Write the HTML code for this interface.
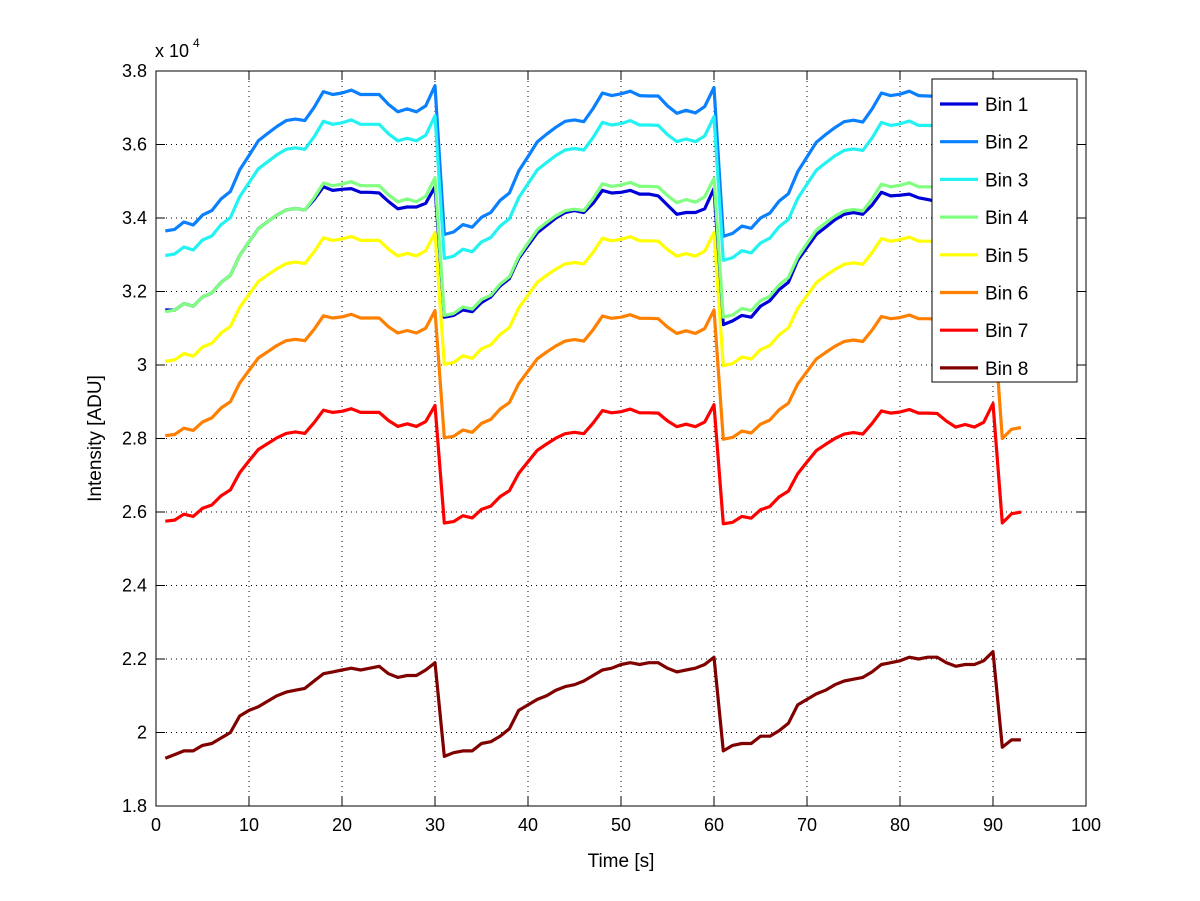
<!DOCTYPE html>
<html><head><meta charset="utf-8"><style>
html,body{margin:0;padding:0;background:#fff;}
svg{display:block;font-family:"Liberation Sans",sans-serif;}
</style></head><body>
<svg id="chart" width="1200" height="901" viewBox="0 0 1200 901" xmlns="http://www.w3.org/2000/svg">
<rect x="0" y="0" width="1200" height="901" fill="#fff"/>
<g id="grid"></g>
<g id="series"></g>
<g id="axes"></g>
<g id="legend"></g>
</svg>
<script>
const xTicks=[0,10,20,30,40,50,60,70,80,90,100];
const yTicks=[1.8,2,2.2,2.4,2.6,2.8,3,3.2,3.4,3.6,3.8];
const yTickLabels=["1.8","2","2.2","2.4","2.6","2.8","3","3.2","3.4","3.6","3.8"];
const seriesNames=["Bin 1","Bin 2","Bin 3","Bin 4","Bin 5","Bin 6","Bin 7","Bin 8"];
const seriesColors=["#0000d8","#0a80ff","#22f2f2","#80ff80","#ffff00","#ff8000","#ff0000","#800000"];
const bin1=[3.150,3.149,3.167,3.160,3.185,3.196,3.225,3.244,3.298,3.335,3.371,3.390,3.408,3.422,3.426,3.422,3.450,3.485,3.475,3.478,3.480,3.470,3.470,3.468,3.445,3.425,3.430,3.430,3.440,3.485,
3.130,3.135,3.150,3.145,3.170,3.185,3.215,3.235,3.290,3.325,3.360,3.380,3.400,3.415,3.420,3.415,3.440,3.475,3.468,3.470,3.475,3.465,3.465,3.460,3.435,3.410,3.415,3.415,3.425,3.480,
3.110,3.120,3.135,3.130,3.160,3.175,3.205,3.225,3.285,3.320,3.355,3.375,3.395,3.410,3.415,3.410,3.435,3.470,3.460,3.462,3.465,3.455,3.450,3.445,3.430,3.410,3.420,3.420,3.440,3.490,
3.120,3.130,3.140];
const bin2=[3.365,3.369,3.389,3.381,3.408,3.420,3.452,3.472,3.531,3.570,3.610,3.630,3.649,3.665,3.669,3.665,3.701,3.744,3.736,3.740,3.748,3.736,3.736,3.736,3.709,3.689,3.697,3.689,3.705,3.760,
3.355,3.362,3.382,3.375,3.402,3.415,3.448,3.468,3.528,3.567,3.607,3.628,3.647,3.663,3.667,3.662,3.698,3.740,3.733,3.738,3.745,3.733,3.732,3.732,3.705,3.685,3.693,3.686,3.703,3.755,
3.350,3.358,3.378,3.372,3.400,3.413,3.446,3.466,3.526,3.566,3.606,3.627,3.646,3.662,3.666,3.661,3.697,3.740,3.733,3.737,3.745,3.733,3.732,3.731,3.705,3.685,3.693,3.686,3.703,3.758,
3.355,3.365,3.375];
const bin3=[3.298,3.302,3.321,3.313,3.340,3.351,3.382,3.401,3.458,3.496,3.534,3.553,3.572,3.587,3.591,3.587,3.621,3.663,3.655,3.659,3.667,3.655,3.655,3.655,3.629,3.610,3.617,3.610,3.625,3.678,
3.290,3.296,3.315,3.308,3.335,3.347,3.378,3.398,3.455,3.493,3.531,3.551,3.570,3.585,3.589,3.585,3.619,3.660,3.653,3.657,3.665,3.653,3.653,3.652,3.627,3.608,3.615,3.608,3.623,3.676,
3.285,3.292,3.311,3.305,3.332,3.345,3.376,3.396,3.453,3.492,3.530,3.550,3.569,3.584,3.588,3.584,3.618,3.660,3.652,3.656,3.664,3.652,3.652,3.651,3.626,3.607,3.615,3.608,3.623,3.676,
3.290,3.298,3.308];
const bin4=[3.145,3.149,3.167,3.160,3.185,3.196,3.225,3.244,3.298,3.335,3.371,3.390,3.408,3.422,3.426,3.422,3.455,3.495,3.488,3.492,3.499,3.488,3.488,3.488,3.463,3.444,3.452,3.444,3.459,3.510,
3.135,3.140,3.158,3.152,3.178,3.190,3.220,3.240,3.295,3.332,3.368,3.388,3.406,3.420,3.424,3.420,3.453,3.493,3.486,3.490,3.497,3.486,3.486,3.485,3.461,3.442,3.450,3.443,3.458,3.508,
3.130,3.136,3.154,3.148,3.175,3.187,3.218,3.238,3.293,3.331,3.367,3.387,3.405,3.419,3.423,3.419,3.452,3.492,3.485,3.489,3.496,3.485,3.485,3.484,3.460,3.441,3.449,3.442,3.457,3.508,
3.135,3.142,3.150];
const bin5=[3.010,3.014,3.031,3.024,3.049,3.059,3.087,3.105,3.157,3.192,3.227,3.245,3.262,3.276,3.280,3.276,3.308,3.346,3.339,3.343,3.350,3.339,3.339,3.339,3.315,3.297,3.304,3.297,3.311,3.360,
3.002,3.007,3.025,3.018,3.044,3.055,3.083,3.102,3.155,3.190,3.225,3.244,3.261,3.275,3.279,3.275,3.307,3.345,3.338,3.342,3.349,3.338,3.338,3.337,3.314,3.296,3.303,3.296,3.310,3.360,
2.998,3.004,3.022,3.016,3.042,3.053,3.082,3.101,3.154,3.189,3.224,3.243,3.260,3.274,3.278,3.274,3.306,3.344,3.337,3.341,3.348,3.337,3.337,3.336,3.313,3.295,3.302,3.295,3.309,3.362,
3.000,3.010,3.018];
const bin6=[2.808,2.811,2.828,2.822,2.845,2.856,2.883,2.900,2.951,2.985,3.019,3.036,3.053,3.066,3.070,3.066,3.097,3.134,3.128,3.131,3.138,3.128,3.128,3.128,3.104,3.087,3.094,3.087,3.100,3.148,
2.802,2.806,2.823,2.817,2.841,2.852,2.880,2.898,2.949,2.983,3.017,3.035,3.052,3.065,3.069,3.065,3.096,3.133,3.127,3.130,3.137,3.127,3.127,3.126,3.103,3.086,3.093,3.086,3.099,3.150,
2.798,2.803,2.820,2.815,2.839,2.850,2.878,2.896,2.948,2.982,3.016,3.034,3.051,3.064,3.068,3.064,3.095,3.132,3.126,3.129,3.136,3.126,3.126,3.125,3.102,3.085,3.092,3.085,3.098,3.152,
2.800,2.825,2.830];
const bin7=[2.575,2.578,2.594,2.588,2.610,2.619,2.644,2.660,2.707,2.739,2.770,2.786,2.802,2.814,2.818,2.814,2.843,2.877,2.871,2.874,2.881,2.871,2.871,2.871,2.849,2.833,2.840,2.833,2.846,2.890,
2.570,2.574,2.590,2.584,2.607,2.616,2.642,2.658,2.705,2.737,2.768,2.785,2.801,2.813,2.817,2.813,2.842,2.876,2.870,2.873,2.880,2.870,2.870,2.869,2.848,2.832,2.839,2.832,2.845,2.892,
2.568,2.572,2.588,2.583,2.606,2.615,2.641,2.657,2.704,2.736,2.767,2.784,2.800,2.812,2.816,2.812,2.841,2.875,2.869,2.872,2.879,2.869,2.869,2.868,2.847,2.831,2.838,2.831,2.844,2.895,
2.570,2.595,2.600];
const bin8=[1.930,1.940,1.950,1.950,1.965,1.970,1.985,2.000,2.045,2.060,2.070,2.085,2.100,2.110,2.115,2.120,2.140,2.160,2.165,2.170,2.175,2.170,2.175,2.180,2.160,2.150,2.155,2.155,2.170,2.190,
1.935,1.945,1.950,1.950,1.970,1.975,1.990,2.010,2.060,2.075,2.090,2.100,2.115,2.125,2.130,2.140,2.155,2.170,2.175,2.185,2.190,2.185,2.190,2.190,2.175,2.165,2.170,2.175,2.185,2.205,
1.950,1.965,1.970,1.970,1.990,1.990,2.005,2.025,2.075,2.090,2.105,2.115,2.130,2.140,2.145,2.150,2.165,2.185,2.190,2.195,2.205,2.200,2.205,2.205,2.190,2.180,2.185,2.185,2.195,2.220,
1.960,1.980,1.980];
const allSeries=[bin1,bin2,bin3,bin4,bin5,bin6,bin7,bin8];

const NS="http://www.w3.org/2000/svg";
const L=156,R=1086,T=71,B=806;
const xMin=0,xMax=100,yMin=1.8,yMax=3.8;
function xs(v){return L+(v-xMin)/(xMax-xMin)*(R-L);}
function ys(v){return B-(v-yMin)/(yMax-yMin)*(B-T);}
function mk(tag,attrs,parent){const e=document.createElementNS(NS,tag);for(const k in attrs)e.setAttribute(k,attrs[k]);parent.appendChild(e);return e;}

const grid=document.getElementById('grid');
const axes=document.getElementById('axes');
const seriesG=document.getElementById('series');
const legend=document.getElementById('legend');

xTicks.forEach((t,i)=>{
  const x=xs(t);
  if(i>0&&i<xTicks.length-1){
    const g=mk('line',{x1:x,y1:T,x2:x,y2:B,stroke:'#000','stroke-width':1,'stroke-dasharray':'1 4'},grid);
    
    
  }
  const tk1=mk('line',{x1:x,y1:B,x2:x,y2:B-9,stroke:'#000','stroke-width':1},axes);
  
  
  const tk2=mk('line',{x1:x,y1:T,x2:x,y2:T+9,stroke:'#000','stroke-width':1},axes);
  
  
  const lb=mk('text',{x:x,y:B+25,'text-anchor':'middle','font-size':18,fill:'#000'},axes);
  lb.textContent=String(t);
  
  
});
yTicks.forEach((t,i)=>{
  const y=ys(t);
  if(i>0&&i<yTicks.length-1){
    const g=mk('line',{x1:L,y1:y,x2:R,y2:y,stroke:'#000','stroke-width':1,'stroke-dasharray':'1 4'},grid);
    
    
  }
  const tk1=mk('line',{x1:L,y1:y,x2:L+9,y2:y,stroke:'#000','stroke-width':1},axes);
  
  
  const tk2=mk('line',{x1:R,y1:y,x2:R-9,y2:y,stroke:'#000','stroke-width':1},axes);
  
  
  const lb=mk('text',{x:L-9,y:y+6,'text-anchor':'end','font-size':18,fill:'#000'},axes);
  lb.textContent=yTickLabels[i];
  
  
});
const box=mk('rect',{x:L,y:T,width:R-L,height:B-T,fill:'none',stroke:'#000','stroke-width':1},axes);



const xt=mk('text',{x:(L+R)/2,y:867,'text-anchor':'middle','font-size':19,fill:'#000'},axes);
xt.textContent='Time [s]';


const yt=mk('text',{x:0,y:0,'text-anchor':'middle','font-size':19,fill:'#000',transform:'translate(101,'+((T+B)/2)+') rotate(-90)'},axes);
yt.textContent='Intensity [ADU]';


const ex=mk('text',{x:155,y:57,'font-size':18,fill:'#000'},axes);
ex.textContent='x 10';


const ex2=mk('text',{x:193,y:47,'font-size':12,fill:'#000'},axes);
ex2.textContent='4';



allSeries.forEach((arr,si)=>{
  const pts=arr.map((v,i)=>xs(i+1).toFixed(1)+','+ys(v).toFixed(1)).join(' ');
  const pl=mk('polyline',{points:pts,fill:'none',stroke:seriesColors[si],'stroke-width':3.2,'stroke-linejoin':'round'},seriesG);
  
  
});

const lbx=mk('rect',{x:932,y:79,width:145,height:303,fill:'#fff',stroke:'#000','stroke-width':1},legend);


seriesNames.forEach((n,i)=>{
  const y=104+i*37.7;
  const g=mk('g',{},legend);
  
  
  mk('line',{x1:940,y1:y,x2:978,y2:y,stroke:seriesColors[i],'stroke-width':3.2},g);
  const t=mk('text',{x:985,y:y+7,'font-size':19,fill:'#000'},g);
  t.textContent=n;
});
</script>
</body></html>
